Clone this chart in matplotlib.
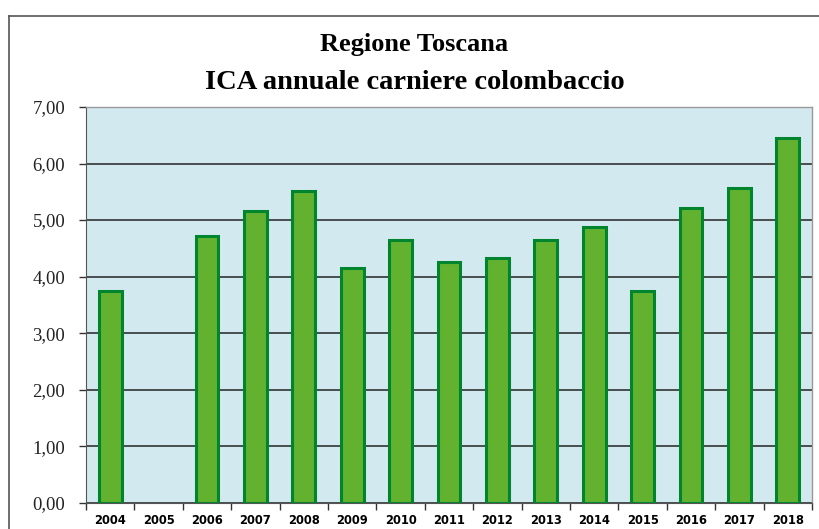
import numpy as np
import matplotlib.pyplot as plt
from matplotlib.lines import Line2D
from matplotlib.ticker import FixedLocator, FuncFormatter

years = ['2004', '2005', '2006', '2007', '2008', '2009', '2010', '2011',
         '2012', '2013', '2014', '2015', '2016', '2017', '2018']
ica = [3.74, np.nan, 4.72, 5.16, 5.51, 4.16, 4.65, 4.26,
       4.32, 4.65, 4.87, 3.74, 5.21, 5.57, 6.46]
title_lines = ['Regione Toscana', 'ICA annuale carniere colombaccio']

fig = plt.figure(figsize=(8.19, 5.29), dpi=100)
fig.patch.set_facecolor('white')

# outer chart frame (runs off the right and bottom edge)
fx = 8.5 / 819
fy = 1 - 15.5 / 529
fig.add_artist(Line2D([fx, fx], [0, fy], transform=fig.transFigure, color='#555555', lw=1.2))
fig.add_artist(Line2D([fx, 1], [fy, fy], transform=fig.transFigure, color='#555555', lw=1.2))

ax = fig.add_axes([86 / 819, 1 - 502.7 / 529, (812 - 86) / 819, (502.7 - 107) / 529])
ax.set_facecolor('#D2E9F0')

x = np.arange(len(years))
ax.bar(x, ica, width=0.47, color='#62B22F', edgecolor='#00852F', linewidth=2.2, zorder=3)

ax.set_xlim(-0.5, len(years) - 0.5)
ax.set_ylim(0, 7)
ax.set_yticks(np.arange(0, 8, 1))
ax.yaxis.set_major_formatter(FuncFormatter(lambda v, p: f'{v:.2f}'.replace('.', ',')))
ax.yaxis.grid(True, color='#222222', lw=1.1, zorder=1)
ax.set_axisbelow(True)

ax.set_xticks(x)
ax.set_xticklabels(years)
ax.xaxis.set_minor_locator(FixedLocator(np.arange(-0.5, len(years), 1)))
ax.tick_params(axis='x', which='major', length=0, pad=8, labelsize=8.3)
ax.tick_params(axis='x', which='minor', length=5, width=1, color='#333333', direction='out')
ax.tick_params(axis='y', length=5, width=1, color='#333333', pad=10, labelsize=13.5)
for lab in ax.get_xticklabels():
    lab.set_fontweight('bold')
    lab.set_family('DejaVu Sans')
for lab in ax.get_yticklabels():
    lab.set_family('Liberation Serif')
    lab.set_color('#222222')

for side in ['top', 'right']:
    ax.spines[side].set_color('#9A9A9A')
    ax.spines[side].set_linewidth(1)
ax.spines['left'].set_color('#555555')
ax.spines['bottom'].set_color('#555555')

fig.text(0.505, 1 - 45 / 529, title_lines[0], ha='center', va='center',
         family='Liberation Serif', fontweight='bold', fontsize=19)
fig.text(0.507, 1 - 83 / 529, title_lines[1], ha='center', va='center',
         family='Liberation Serif', fontweight='bold', fontsize=20.5)

fig.savefig('out.png', dpi=100)
